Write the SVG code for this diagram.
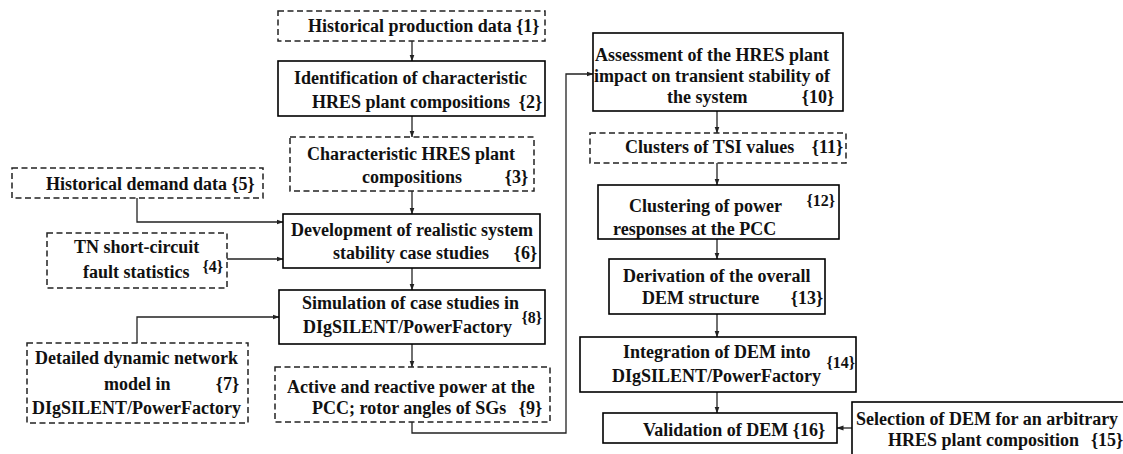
<svg xmlns="http://www.w3.org/2000/svg" width="1123" height="454" viewBox="0 0 1123 454">
<style>
.box{fill:#fff;stroke:#000;stroke-width:1.6}
.dash{fill:#fff;stroke:#222;stroke-width:1.5;stroke-dasharray:6 3.5}
text{font-family:"Liberation Serif","Times New Roman",serif;font-weight:bold;font-size:18px;fill:#111}
.e{text-anchor:end}
.s{font-size:16px}
.c{fill:none;stroke:#222;stroke-width:1.3}
</style>
<defs>
<marker id="ah" markerWidth="7" markerHeight="6" refX="6.5" refY="3" orient="auto" markerUnits="userSpaceOnUse">
<path d="M0,0.5 L7,3 L0,5.5 Z" fill="#222"/>
</marker>
</defs>
<rect width="1123" height="454" fill="#fff"/>
<g id="connectors">
<path class="c" marker-end="url(#ah)" d="M412,41 V61"/>
<path class="c" marker-end="url(#ah)" d="M412,116 V137"/>
<path class="c" marker-end="url(#ah)" d="M412,191 V214"/>
<path class="c" marker-end="url(#ah)" d="M137,198 V222 H283"/>
<path class="c" marker-end="url(#ah)" d="M227,259 H283"/>
<path class="c" marker-end="url(#ah)" d="M412,268 V290"/>
<path class="c" marker-end="url(#ah)" d="M137,343 V317 H279"/>
<path class="c" marker-end="url(#ah)" d="M412,344 V367"/>
<path class="c" marker-end="url(#ah)" d="M412,422 V433 H566 V74 H593"/>
<path class="c" marker-end="url(#ah)" d="M717,111 V133"/>
<path class="c" marker-end="url(#ah)" d="M717,163 V185"/>
<path class="c" marker-end="url(#ah)" d="M717,239 V259"/>
<path class="c" marker-end="url(#ah)" d="M717,314 V337"/>
<path class="c" marker-end="url(#ah)" d="M717,392 V413"/>
<path class="c" marker-end="url(#ah)" d="M852,428 H837"/>
</g>
<g id="n1">
<rect class="dash" x="278" y="11" width="267" height="30"/>
<text x="308" y="32">Historical production data {1}</text>
</g>
<g id="n2">
<rect class="box" x="278" y="61" width="267" height="55"/>
<text x="294" y="84">Identification of characteristic</text>
<text x="312" y="108">HRES plant compositions</text>
<text class="e" x="542" y="108">{2}</text>
</g>
<g id="n3">
<rect class="dash" x="290" y="137" width="244" height="54"/>
<text x="307" y="160">Characteristic HRES plant</text>
<text x="362" y="183">compositions</text>
<text class="e" x="528" y="183">{3}</text>
</g>
<g id="n5">
<rect class="dash" x="12" y="168" width="251" height="30"/>
<text x="46" y="190">Historical demand data {5}</text>
</g>
<g id="n6">
<rect class="box" x="283" y="214" width="257" height="54"/>
<text x="291" y="236">Development of realistic system</text>
<text x="333" y="259">stability case studies</text>
<text class="e" x="537" y="259">{6}</text>
</g>
<g id="n4">
<rect class="dash" x="47" y="233" width="180" height="55"/>
<text x="74" y="253">TN short-circuit</text>
<text x="83" y="278">fault statistics</text>
<text class="e s" x="223" y="272">{4}</text>
</g>
<g id="n8">
<rect class="box" x="279" y="290" width="266" height="54"/>
<text x="302" y="309">Simulation of case studies in</text>
<text x="303" y="333">DIgSILENT/PowerFactory</text>
<text class="e s" x="542" y="323">{8}</text>
</g>
<g id="n7">
<rect class="dash" x="27" y="343" width="221" height="80"/>
<text x="35" y="364">Detailed dynamic network</text>
<text x="104" y="390">model in</text>
<text class="e" x="239" y="390">{7}</text>
<text x="32" y="414">DIgSILENT/PowerFactory</text>
</g>
<g id="n9">
<rect class="dash" x="275" y="367" width="275" height="55"/>
<text x="287" y="393">Active and reactive power at the</text>
<text x="312" y="414">PCC; rotor angles of SGs</text>
<text class="e" x="542" y="414">{9}</text>
</g>
<g id="n10">
<rect class="box" x="593" y="33" width="250" height="78"/>
<text x="595" y="61">Assessment of the HRES plant</text>
<text x="594" y="82">impact on transient stability of</text>
<text x="667" y="103">the system</text>
<text class="e" x="834" y="103">{10}</text>
</g>
<g id="n11">
<rect class="dash" x="590" y="133" width="256" height="30"/>
<text x="625" y="153">Clusters of TSI values</text>
<text class="e" x="843" y="153">{11}</text>
</g>
<g id="n12">
<rect class="box" x="598" y="185" width="241" height="54"/>
<text x="629" y="212">Clustering of power</text>
<text class="e s" x="835" y="206">{12}</text>
<text x="613" y="235">responses at the PCC</text>
</g>
<g id="n13">
<rect class="box" x="609" y="259" width="216" height="55"/>
<text x="623" y="282">Derivation of the overall</text>
<text x="642" y="304">DEM structure</text>
<text class="e" x="823" y="304">{13}</text>
</g>
<g id="n14">
<rect class="box" x="580" y="337" width="276" height="55"/>
<text x="623" y="358">Integration of DEM into</text>
<text x="612" y="382">DIgSILENT/PowerFactory</text>
<text class="e s" x="855" y="368">{14}</text>
</g>
<g id="n16">
<rect class="box" x="603" y="413" width="234" height="30"/>
<text x="643" y="436">Validation of DEM {16}</text>
</g>
<g id="n15">
<rect class="box" x="852" y="402" width="300" height="80"/>
<text x="856" y="425">Selection of DEM for an arbitrary</text>
<text x="888" y="446">HRES plant composition</text>
<text x="1091" y="446">{15}</text>
</g>
</svg>
